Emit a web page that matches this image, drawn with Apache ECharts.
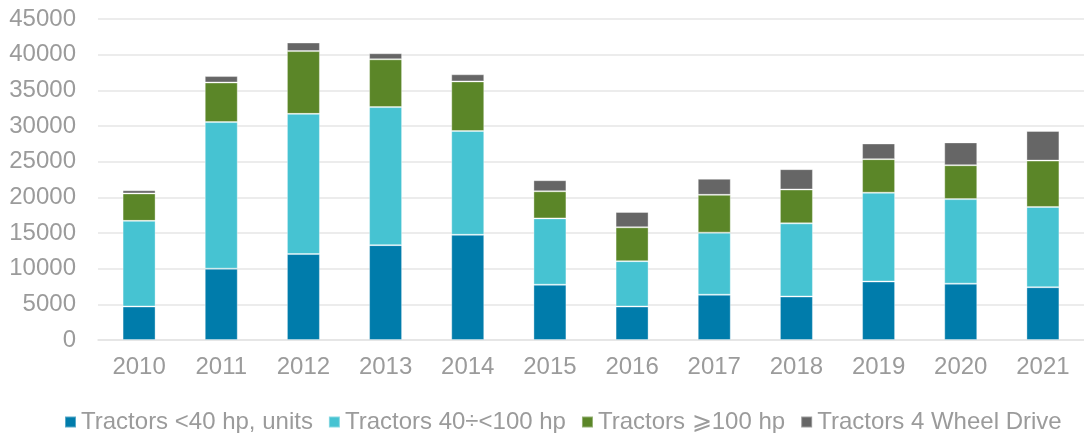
<!DOCTYPE html>
<html>
<head>
<meta charset="utf-8">
<script src="https://cdn.jsdelivr.net/npm/echarts@6/dist/echarts.min.js"></script>
<style>
html,body{margin:0;padding:0;background:#fff;}
#chart{width:1084px;height:433px;}
</style>
</head>
<body>
<div id="chart"></div>
<script>
const years = ['2010','2011','2012','2013','2014','2015','2016','2017','2018','2019','2020','2021'];
const under40 = [4700, 10000, 12050, 13300, 14750, 7750, 4700, 6350, 6100, 8200, 7900, 7400];
const from40to100 = [12000, 20550, 19650, 19350, 14550, 9300, 6350, 8700, 10250, 12450, 11850, 11250];
const over100 = [3850, 5550, 8800, 6700, 6950, 3800, 4750, 5300, 4750, 4700, 4750, 6500];
const wheel4 = [450, 900, 1200, 850, 1000, 1550, 2150, 2250, 2850, 2200, 3200, 4150];
const seriesNames = ['Tractors <40 hp, units', 'Tractors 40÷<100 hp', 'Tractors \u2A7E100 hp', 'Tractors 4 Wheel Drive'];
const colors = ['#007CAB', '#46C3D2', '#5B8628', '#666666'];

const font = '"Liberation Sans", Arial, sans-serif';
const textColor = '#9B9B9B';
const chart = echarts.init(document.getElementById('chart'), null, {renderer: 'canvas'});

function mk(name, data, color) {
  return {
    name: name,
    type: 'bar',
    stack: 'total',
    data: data,
    barWidth: 33,
    itemStyle: {color: color, borderColor: 'rgba(255,255,255,0.35)', borderWidth: 1},
    emphasis: {disabled: true}
  };
}

chart.setOption({
  animation: false,
  color: colors,
  grid: {left: 98, right: -5, top: 19, bottom: 93, containLabel: false},
  legend: {
    left: 59,
    top: 405,
    itemWidth: 11,
    itemHeight: 11,
    itemGap: 15,
    icon: 'rect',
    textStyle: {color: textColor, fontSize: 24, fontFamily: font, padding: [0, 0, 16, 0]},
    data: seriesNames
  },
  xAxis: {
    type: 'category',
    data: years,
    axisLine: {lineStyle: {color: '#E3E3E3', width: 1.5}},
    axisTick: {show: false},
    axisLabel: {color: textColor, fontSize: 24, fontFamily: font, margin: 15}
  },
  yAxis: {
    type: 'value',
    min: 0,
    max: 45000,
    interval: 5000,
    axisLine: {show: false},
    axisTick: {show: false},
    splitLine: {lineStyle: {color: '#E6E6E6', width: 1.5}},
    axisLabel: {color: textColor, fontSize: 24, fontFamily: font, margin: 22, formatter: function (v) { return String(v); }}
  },
  series: [
    mk(seriesNames[0], under40, colors[0]),
    mk(seriesNames[1], from40to100, colors[1]),
    mk(seriesNames[2], over100, colors[2]),
    mk(seriesNames[3], wheel4, colors[3])
  ]
});
</script>
</body>
</html>
